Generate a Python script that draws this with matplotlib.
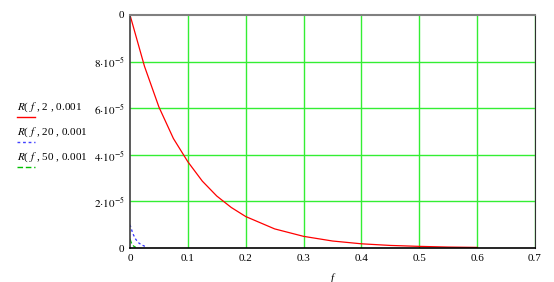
import matplotlib
matplotlib.use("Agg")
import matplotlib.pyplot as plt

plt.rcParams["font.family"] = "Liberation Serif"
plt.rcParams["mathtext.fontset"] = "stix"

# values
f_2 = [0.0, 0.025, 0.05, 0.075, 0.1, 0.125, 0.15, 0.175, 0.2, 0.25, 0.3,
       0.35, 0.4, 0.45, 0.5, 0.55, 0.6]
r_2 = [1.0e-4, 7.8e-5, 6.05e-5, 4.7e-5, 3.7e-5, 2.87e-5, 2.23e-5, 1.74e-5,
       1.35e-5, 8.2e-6, 5.0e-6, 3.0e-6, 1.8e-6, 1.1e-6, 7e-7, 4e-7, 2.5e-7]

f_20 = [0.0, 0.005, 0.01, 0.015, 0.02, 0.025, 0.03]
r_20 = [1.0e-5, 6.1e-6, 3.7e-6, 2.2e-6, 1.35e-6, 8e-7, 5e-7]

f_50 = [0.0, 0.002, 0.004, 0.006, 0.008, 0.01]
r_50 = [4.0e-6, 2.4e-6, 1.5e-6, 9e-7, 5e-7, 3.3e-7]

x_ticks = [0, 0.1, 0.2, 0.3, 0.4, 0.5, 0.6, 0.7]
x_labels = ["0", "0.1", "0.2", "0.3", "0.4", "0.5", "0.6", "0.7"]
y_ticks = [0, 2e-5, 4e-5, 6e-5, 8e-5, 1e-4]
y_labels = ["0", r"$2{\cdot}10^{-5}$", r"$4{\cdot}10^{-5}$",
            r"$6{\cdot}10^{-5}$", r"$8{\cdot}10^{-5}$", "0"]

legend_labels = ["2", "20", "50"]
legend_colors = ["#ff0000", "#4040ff", "#00c000"]

grid_green = "#33ee33"

fig = plt.figure(figsize=(5.54, 2.82), dpi=100)
ax = fig.add_axes([130 / 554, 34 / 282, 405 / 554, 233 / 282])

ax.plot(f_2, r_2, color="#ff0000", lw=0.9)
ax.plot(f_20, r_20, color="#3030ff", lw=0.9, linestyle=(0, (2, 2)))
ax.plot(f_50, r_50, color="#00c000", lw=0.9, linestyle=(0, (4, 2)))

ax.set_xlim(0, 0.7)
ax.set_ylim(0, 1e-4)
ax.set_xticks(x_ticks)
ax.set_xticklabels(x_labels, fontsize=8)
ax.set_yticks(y_ticks)
ax.set_yticklabels(y_labels, fontsize=8)
ax.tick_params(length=0, pad=4)

for x in x_ticks[1:]:
    ax.axvline(x, color=grid_green, lw=1.0, zorder=0)
for y in y_ticks[1:-1]:
    ax.axhline(y, color=grid_green, lw=1.0, zorder=0)

ax.spines["left"].set_color("#404040")
ax.spines["bottom"].set_color("black")
ax.spines["top"].set_color("#808080")
ax.spines["top"].set_linewidth(1.5)
ax.spines["right"].set_color("#303030")
for s in ["left", "bottom"]:
    ax.spines[s].set_linewidth(1.2)

ax.set_xlabel("f", fontsize=8, style="italic", labelpad=8)

# left-side legend like Mathcad's trace labels
for i, (n, c) in enumerate(zip(legend_labels, legend_colors)):
    ytxt = 107 + i * 25
    fig.text(17 / 554, 1 - ytxt / 282, r"$\mathit{R}$( $\mathit{f}$ , " + n + " , 0.001",
             fontsize=8, va="center", ha="left")
    yl = 1 - (ytxt + 10) / 282
    ls = ["-", (0, (2, 2)), (0, (4, 2))][i]
    fig.add_artist(plt.Line2D([17 / 554, 35 / 554], [yl, yl], color=c,
                              lw=1.0, linestyle=ls, transform=fig.transFigure))

fig.savefig("out.png", dpi=100)
